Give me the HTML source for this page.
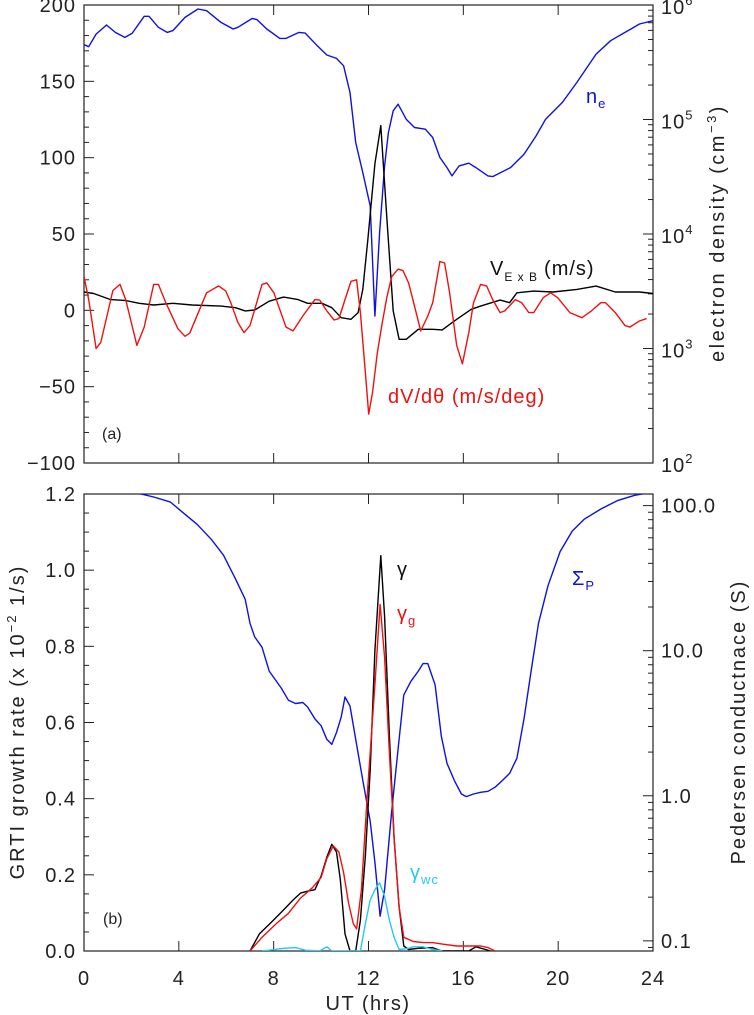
<!DOCTYPE html>
<html><head><meta charset="utf-8">
<style>
html,body{margin:0;padding:0;background:#fff;}
svg{display:block;font-family:"Liberation Sans",sans-serif;}
</style></head>
<body>
<svg id="chart" width="754" height="1015" viewBox="0 0 754 1015" xmlns="http://www.w3.org/2000/svg"></svg>
<script>
// ---------- Panel (a) data ----------
const neHours = [0,0.2,0.51,0.95,1.32,1.72,2.03,2.54,2.74,3.14,3.51,3.75,4.26,4.81,5.17,5.78,6.29,6.49,7.1,7.3,7.71,8.26,8.52,9.07,9.33,9.84,10.24,10.65,10.95,11.22,11.46,11.76,12.07,12.27,12.47,12.68,12.84,13.04,13.25,13.59,13.94,14.4,14.71,15.01,15.31,15.52,15.82,16.23,16.53,17.04,17.24,17.99,18.56,19.07,19.47,20.18,20.79,21.6,22.21,22.82,23.43,24];
const neLog10 = [5.653,5.636,5.746,5.825,5.761,5.717,5.752,5.901,5.901,5.805,5.761,5.776,5.892,5.965,5.95,5.848,5.79,5.805,5.883,5.872,5.79,5.708,5.708,5.761,5.755,5.644,5.563,5.534,5.469,5.236,4.799,4.536,4.245,3.283,4.012,4.595,4.886,5.076,5.134,5.003,4.93,4.915,4.843,4.668,4.58,4.507,4.595,4.618,4.58,4.507,4.501,4.58,4.697,4.857,5.003,5.149,5.324,5.571,5.688,5.761,5.834,5.863];
const vHours = [0,0.41,1.12,1.72,2.33,2.94,3.75,4.56,5.78,6.39,6.8,7.2,7.81,8.42,9.03,9.43,10.04,10.45,10.85,11.26,11.56,11.76,11.97,12.27,12.52,12.78,13.04,13.29,13.59,14.1,14.71,15.11,15.72,16.33,16.73,17.55,17.95,18.26,18.97,19.78,20.79,21.6,22.41,23.43,24];
const vExB = [12,11,7,6.5,4.6,3.5,4.6,3.5,2.8,1.7,-0.4,0.2,6,8.7,7,4.6,4.6,1.7,-4.8,-5.9,-1.5,13.7,46,96,121,59,-0.4,-19,-19,-12.4,-12.4,-12.8,-5.9,0.7,2.8,6.7,5,11.5,12.6,12,13.7,15.9,12,12,11];
const dHours = [0,0.2,0.51,0.71,1.22,1.52,1.76,2.23,2.54,2.94,3.14,3.45,3.96,4.26,4.46,5.17,5.68,5.98,6.19,6.49,6.75,7.0,7.51,7.71,8.01,8.52,8.82,9.23,9.74,9.94,10.24,10.55,10.75,11.01,11.26,11.5,11.66,11.87,12.01,12.17,12.37,12.58,12.78,12.98,13.25,13.45,13.69,13.94,14.2,14.5,14.71,15.01,15.21,15.42,15.72,15.96,16.23,16.43,16.73,16.98,17.24,17.55,17.75,18.19,18.46,18.76,18.97,19.37,19.68,19.98,20.49,21.0,21.4,21.8,22.0,22.41,22.82,23.02,23.43,23.73];
const dVdTheta = [22,7,-25,-21,13,17,7,-23,-11,17,17,5,-12,-17,-15,11.5,16,12.6,5,-8,-14.6,-10,17,18,11.5,-11,-13.5,-3.7,7,6.7,-0.4,-6.3,-5.4,7,19,20,-1.5,-41,-68,-54,-28,-8,9,22,27,26,18,2.8,-13.5,-3.7,5,32,31,11.5,-23,-35,-14.6,5,17,16,7,-1.5,-0.4,7,5,-1.5,-1.5,8.3,11.5,8.3,-1.5,-4.8,-0.4,5,5,-1.5,-10,-11,-7,-5.4];
const aLeftTicks = [-100,-50,0,50,100,150,200];
const aRightTickExps = [2,3,4,5,6];
const xTickLabels = [0,4,8,12,16,20,24];

// ---------- Panel (b) data ----------
const sigHours = [0,1.52,2.33,2.94,3.65,4.16,4.77,5.38,5.88,6.39,6.8,7.0,7.2,7.51,7.81,8.32,8.62,8.92,9.23,9.43,9.74,10.0,10.24,10.45,10.65,10.85,11.01,11.22,11.46,11.76,12.07,12.27,12.49,12.68,12.98,13.29,13.49,13.79,14.1,14.3,14.5,14.81,15.07,15.31,15.62,15.92,16.13,16.43,16.73,17.04,17.34,17.65,17.95,18.26,18.56,18.86,19.17,19.57,20.08,20.59,21.1,21.81,22.52,23.23,23.63,24];
const sigmaPLog10 = [2.142,2.106,2.083,2.059,2.024,1.954,1.871,1.765,1.659,1.495,1.354,1.189,1.095,1.024,0.859,0.742,0.659,0.636,0.643,0.612,0.53,0.483,0.389,0.354,0.436,0.542,0.681,0.619,0.389,0.106,-0.176,-0.458,-0.83,-0.646,-0.105,0.389,0.695,0.789,0.859,0.911,0.911,0.765,0.412,0.224,0.106,0.012,-0.006,0.012,0.024,0.031,0.059,0.106,0.154,0.259,0.53,0.859,1.189,1.448,1.683,1.824,1.906,1.977,2.036,2.071,2.083,2.09];
const gHours = [7.0,7.4,7.91,8.42,8.82,9.13,9.43,9.74,10.0,10.24,10.45,10.65,10.81,11.01,11.22,11.46,11.66,11.87,12.07,12.27,12.52,12.68,12.88,13.08,13.29,13.49,13.69,14.1,14.71,14.91,15.11,16.23,16.53,16.94,17.14];
const gamma = [0,0.045,0.076,0.108,0.134,0.152,0.157,0.161,0.197,0.246,0.28,0.26,0.188,0.045,0,0,0.081,0.251,0.475,0.789,1.038,0.878,0.565,0.296,0.116,0.013,0.004,0.007,0.009,0.004,0,0,0.011,0.004,0];
const ggHours = [7.0,7.51,8.11,8.62,9.13,9.63,10.0,10.24,10.51,10.75,10.95,11.16,11.36,11.5,11.7,11.97,12.27,12.49,12.68,12.88,13.08,13.29,13.49,13.89,14.3,14.71,15.11,15.72,16.23,16.73,17.04,17.34];
const gammaG = [0,0.036,0.072,0.099,0.139,0.166,0.193,0.242,0.276,0.26,0.206,0.125,0.072,0.058,0.161,0.43,0.699,0.91,0.771,0.52,0.296,0.116,0.036,0.025,0.022,0.022,0.018,0.013,0.013,0.013,0.009,0];
const gwHours = [7.51,7.81,8.42,8.92,9.33,9.94,10.24,10.45,11.66,11.87,12.07,12.27,12.47,12.68,12.88,13.08,13.29,13.69,13.89,14.3,14.71,15.11];
const gammaWC = [0,0.002,0.007,0.009,0.002,0,0.011,0,0,0.072,0.134,0.161,0.179,0.143,0.081,0.036,0.004,0.007,0.011,0.011,0.004,0];
const bLeftTicks = [0.0,0.2,0.4,0.6,0.8,1.0,1.2];
const bRightTicks = [0.1,1.0,10.0,100.0];

const NS = "http://www.w3.org/2000/svg";
const svg = document.getElementById('chart');
function el(tag, attrs, parent){ const e=document.createElementNS(NS,tag); for(const k in attrs) e.setAttribute(k,attrs[k]); (parent||svg).appendChild(e); return e; }

const X0=84, X1=653;
const xS = h => X0 + (h/24)*(X1-X0);
const AT=5, AB=463;
const yA = v => AB - (v+100)/300*(AB-AT);
const yAlog = l => AB - (l-2)/4*(AB-AT);
const BT=494, BB=951;
const yB = v => BB - v/1.2*(BB-BT);
const LMIN=-1.07, LMAX=2.08;
const yBlog = l => BB - (l-LMIN)/(LMAX-LMIN)*(BB-BT);

function line(x1,y1,x2,y2,parent){ return el('line',{x1,y1,x2,y2,stroke:'#222','stroke-width':1},parent); }
function poly(xs, ys, fx, fy, color, name, clipId){
  const pts = xs.map((h,i)=>fx(h).toFixed(1)+','+fy(ys[i]).toFixed(1)).join(' ');
  const p = el('polyline',{points:pts,fill:'none',stroke:color,'stroke-width':1.4,'stroke-linejoin':'round'});
  if(clipId) p.setAttribute('clip-path','url(#'+clipId+')');
  
  
  return p;
}
function txt(x,y,s,attrs,name){
  const t = el('text',Object.assign({x,y,'font-size':20,fill:'#222','letter-spacing':'1'},attrs||{}));
  t.textContent = s;
  
  
  return t;
}
const defs = el('defs',{});
const c1 = el('clipPath',{id:'clipA'},defs); el('rect',{x:X0,y:AT,width:X1-X0,height:AB-AT},c1);
const c2 = el('clipPath',{id:'clipB'},defs); el('rect',{x:X0,y:BT,width:X1-X0,height:BB-BT},c2);

function frame(T,B,name){
  const r = el('rect',{x:X0,y:T,width:X1-X0,height:B-T,fill:'none',stroke:'#222','stroke-width':1.2});
  
  
  xTickLabels.forEach(h=>{ line(xS(h),B,xS(h),B-10); line(xS(h),T,xS(h),T+10); });
}
frame(AT,AB,'panel-a-frame');
for(let v=-100; v<=200; v+=10){ const major = v%50===0; line(X0,yA(v),X0+(major?10:5),yA(v)); }
aLeftTicks.forEach(v=>txt(X0-8,yA(v)+7,v<0?'\u2212'+(-v):String(v),{'text-anchor':'end'},'y-tick-left-a'));
for(let e=2;e<6;e++){ for(let m=1;m<=9;m++){ const l=e+Math.log10(m); line(X1,yAlog(l),X1-(m===1?10:5),yAlog(l)); } }
line(X1,yAlog(6),X1-10,yAlog(6));
aRightTickExps.forEach(e=>{ const t=txt(X1+8,yAlog(e)+9,'10',{},'y-tick-right-a'); const s=el('tspan',{dy:-9,'font-size':13},t); s.textContent=String(e); });
{ const t = txt(0,0,'electron density (cm',{transform:'translate(724,233) rotate(-90)','text-anchor':'middle','letter-spacing':'2.5'},'y-axis-title-right-a');
  const s=el('tspan',{dy:-8,'font-size':13},t); s.textContent='\u22123'; const s2=el('tspan',{dy:8},t); s2.textContent=')'; }

poly(neHours, neLog10, xS, yAlog, '#1010e0', 'ne-line', 'clipA');
poly(vHours, vExB, xS, yA, '#000', 'vexb-line', 'clipA');
poly(dHours, dVdTheta, xS, yA, '#ee1111', 'dvdtheta-line', 'clipA');

{ const t=txt(586,103,'n',{fill:'#1010e0'},'ne-label'); const s=el('tspan',{dy:5,'font-size':13},t); s.textContent='e'; }
{ const t=txt(490,275,'V',{fill:'#111'},'vexb-label'); const s=el('tspan',{dy:6,'font-size':12},t); s.textContent='E x B'; const s2=el('tspan',{dy:-6,dx:6},t); s2.textContent='(m/s)'; }
txt(388,403,'dV/d\u03b8 (m/s/deg)',{fill:'#ee1111'},'dvdtheta-label');
txt(102,439,'(a)',{'font-size':16,'letter-spacing':'0'},'panel-a-label');

frame(BT,BB,'panel-b-frame');
for(let i=0;i<=24;i++){ const v=i*0.05; const major = i%4===0; line(X0,yB(v),X0+(major?10:5),yB(v)); }
bLeftTicks.forEach(v=>txt(X0-8,yB(v)+7,v.toFixed(1),{'text-anchor':'end'},'y-tick-left-b'));
for(let e=-2;e<=2;e++){ for(let m=1;m<=9;m++){ const l=e+Math.log10(m); if(l<LMIN||l>LMAX) continue; line(X1,yBlog(l),X1-(m===1?10:5),yBlog(l)); } }
bRightTicks.forEach(v=>txt(X1+8,yBlog(Math.log10(v))+7,v.toFixed(1),{},'y-tick-right-b'));
xTickLabels.forEach(h=>txt(xS(h),985,String(h),{'text-anchor':'middle'},'x-tick-label'));
txt(368,1010,'UT (hrs)',{'text-anchor':'middle','letter-spacing':'1.5'},'x-axis-title');
{ const t = txt(0,0,'GRTI growth rate (x 10',{transform:'translate(24,722) rotate(-90)','text-anchor':'middle','letter-spacing':'2'},'y-axis-title-left-b');
  const s=el('tspan',{dy:-8,'font-size':13},t); s.textContent='\u22122'; const s2=el('tspan',{dy:8},t); s2.textContent=' 1/s)'; }
txt(0,0,'Pedersen conductnace (S)',{transform:'translate(745,722) rotate(-90)','text-anchor':'middle','letter-spacing':'2'},'y-axis-title-right-b');

poly(sigHours, sigmaPLog10, xS, yBlog, '#1010e0', 'sigma-p-line', 'clipB');
poly(gHours, gamma, xS, yB, '#000', 'gamma-line', 'clipB');
poly(ggHours, gammaG, xS, yB, '#ee1111', 'gamma-g-line', 'clipB');
poly(gwHours, gammaWC, xS, yB, '#22ccee', 'gamma-wc-line', 'clipB');

txt(397,576,'\u03b3',{fill:'#111','font-size':20},'gamma-label');
{ const t=txt(397,620,'\u03b3',{fill:'#ee1111','font-size':20},'gamma-g-label'); const s=el('tspan',{dy:5,'font-size':13},t); s.textContent='g'; }
{ const t=txt(572,585,'\u03a3',{fill:'#1010e0'},'sigma-p-label'); const s=el('tspan',{dy:5,'font-size':13},t); s.textContent='P'; }
{ const t=txt(410,879,'\u03b3',{fill:'#22ccee','font-size':20},'gamma-wc-label'); const s=el('tspan',{dy:5,'font-size':13},t); s.textContent='wc'; }
txt(103,924,'(b)',{'font-size':16,'letter-spacing':'0'},'panel-b-label');
</script>
</body></html>
